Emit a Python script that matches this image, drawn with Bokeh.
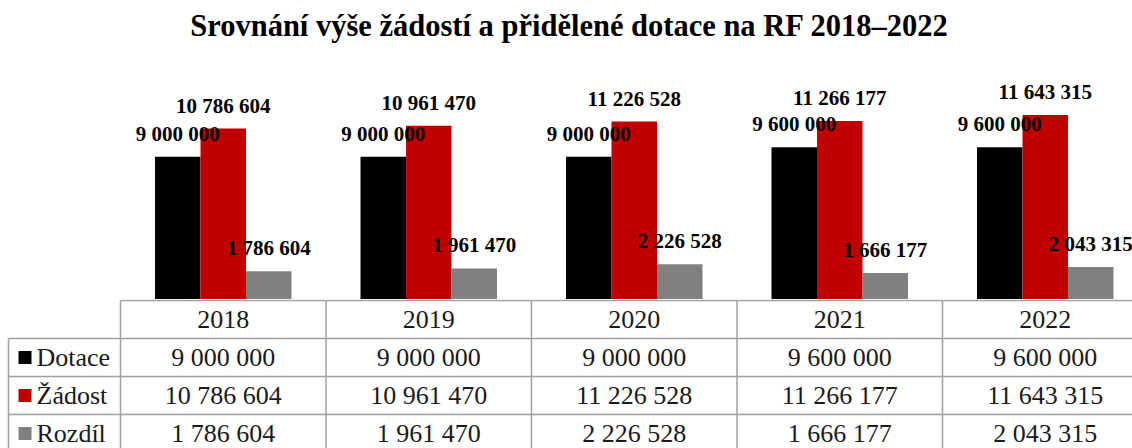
from bokeh.plotting import figure
from bokeh.layouts import column
from bokeh.models import Range1d
from bokeh.core.properties import value
from bokeh.embed import file_html
from bokeh.resources import INLINE

# ---------------- data ----------------
title = "Srovnání výše žádostí a přidělené dotace na RF 2018–2022"
years = ["2018", "2019", "2020", "2021", "2022"]
series = ["Dotace", "Žádost", "Rozdíl"]
dotace = [9000000, 9000000, 9000000, 9600000, 9600000]
zadost = [10786604, 10961470, 11226528, 11266177, 11643315]
rozdil = [1786604, 1961470, 2226528, 1666177, 2043315]
colors = ["#000000", "#c00000", "#808080"]

# ---------------- layout constants ----------------
W = 1132
TOP_H = 299
BOT_H = 149
COL_PX = 205.5          # width of one year column in px
LEFT_PX = 120           # left edge of first year column
PPM = 15.85             # px per million
ROW_PX = 38.0           # table row height
FONT = value("Liberation Serif")

def xu(px):
    return (px - LEFT_PX) / COL_PX

xr = Range1d(xu(0), xu(W))


def fmt(v):
    return f"{v:,}".replace(",", " ")


# ---------------- bar chart ----------------
top = figure(width=W, height=TOP_H, x_range=xr,
             y_range=Range1d(0, TOP_H / PPM * 1e6),
             output_backend="svg", toolbar_location=None,
             min_border=0, outline_line_color=None)
top.axis.visible = False
top.grid.visible = False
top.background_fill_color = "white"
top.border_fill_color = "white"

bw = 45.5 / COL_PX
all_vals = [dotace, zadost, rozdil]
for k, (vals, col) in enumerate(zip(all_vals, colors)):
    xs = [i + 0.5 + (k - 1) * bw for i in range(len(years))]
    top.vbar(x=xs, top=vals, bottom=0, width=bw, fill_color=col, line_color=None)

for k, vals in enumerate(all_vals):
    xs = [i + 0.5 + (k - 1) * bw for i in range(len(years))]
    ys = [v + 23 / PPM * 1e6 for v in vals]
    top.text(x=xs, y=ys, text=[fmt(v) for v in vals], text_font=FONT,
             text_font_style="bold", text_font_size="21px", text_color="#000000",
             text_align="center", text_baseline="alphabetic")

top.text(x=[xu(569)], y=[(TOP_H - 25) / PPM * 1e6], text=[title], text_font=FONT,
         text_font_style="bold", text_font_size="30.5px", text_color="#000000",
         text_align="center", text_baseline="alphabetic")

# ---------------- data table ----------------
bot = figure(width=W, height=BOT_H, x_range=xr,
             y_range=Range1d((BOT_H - 1) / ROW_PX, -1 / ROW_PX),
             output_backend="svg", toolbar_location=None,
             min_border=0, outline_line_color=None)
bot.axis.visible = False
bot.grid.visible = False
bot.background_fill_color = "white"
bot.border_fill_color = "white"

grid_col = "#a0a0a0"
left_edge = xu(8)
right_edge = xu(W + 40)
n = len(years)
# horizontal lines
bot.segment(x0=[0], y0=[0], x1=[right_edge], y1=[0], line_color=grid_col, line_width=1.5)
bot.segment(x0=[left_edge] * len(series), y0=list(range(1, len(series) + 1)),
            x1=[right_edge] * len(series), y1=list(range(1, len(series) + 1)),
            line_color=grid_col, line_width=1.5)
# vertical lines
bot.segment(x0=list(range(n + 1)), y0=[0] * (n + 1), x1=list(range(n + 1)), y1=[10] * (n + 1),
            line_color=grid_col, line_width=1.5)
bot.segment(x0=[left_edge], y0=[1], x1=[left_edge], y1=[10], line_color=grid_col, line_width=1.5)

txt_col = "#1a1a1a"
# header
bot.text(x=[i + 0.5 for i in range(n)], y=[0.5] * n, text=years, text_font=FONT,
         text_font_size="26px", text_color=txt_col, text_align="center", text_baseline="middle")
# rows
for r, (name, vals, col) in enumerate(zip(series, all_vals, colors)):
    yy = r + 1.5
    bot.text(x=[i + 0.5 for i in range(n)], y=[yy] * n, text=[fmt(v) for v in vals],
             text_font=FONT, text_font_size="26px", text_color=txt_col,
             text_align="center", text_baseline="middle")
    bot.scatter(x=[xu(24.5)], y=[yy], marker="square", size=13, fill_color=col, line_color=None)
    bot.text(x=[xu(36)], y=[yy], text=[name], text_font=FONT, text_font_size="26px",
             text_color=txt_col, text_align="left", text_baseline="middle")

layout = column(top, bot, spacing=0)
open("out.html", "w").write(file_html(layout, INLINE))
